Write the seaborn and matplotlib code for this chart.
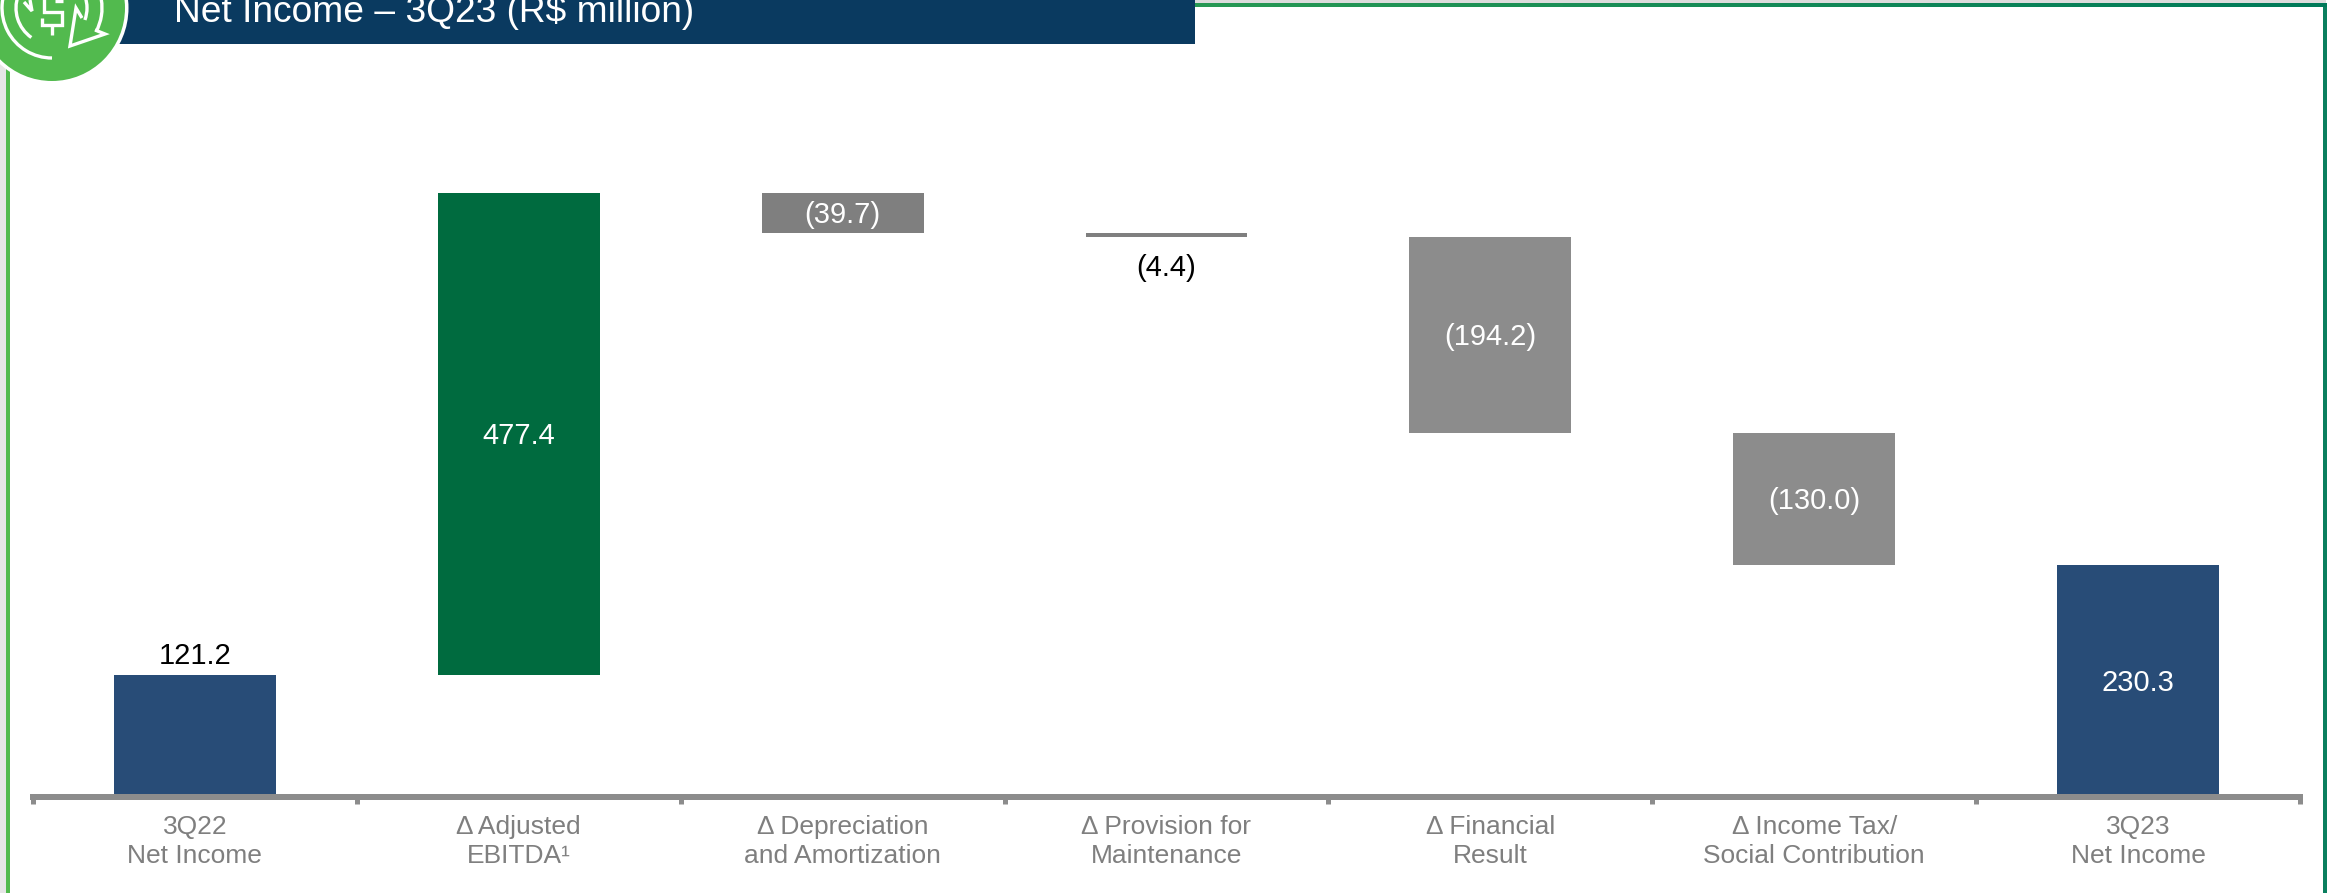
import matplotlib
matplotlib.use("Agg")
import matplotlib.pyplot as plt
import numpy as np
import seaborn as sns
from matplotlib.colors import LinearSegmentedColormap
from matplotlib.patches import Circle, Rectangle, Arc

# Net income bridge, R$ million
categories = ["3Q22\nNet Income", "Δ Adjusted\nEBITDA¹", "Δ Depreciation\nand Amortization",
              "Δ Provision for\nMaintenance", "Δ Financial\nResult",
              "Δ Income Tax/\nSocial Contribution", "3Q23\nNet Income"]
values = [121.2, 477.4, -39.7, -4.4, -194.2, -130.0, 230.3]
bottoms = [0, 121.2, 558.9, 554.5, 360.3, 230.3, 0]
labels = ["121.2", "477.4", "(39.7)", "(4.4)", "(194.2)", "(130.0)", "230.3"]
bar_colors = ["#284C77", "#006B3F", "#7F7F7F", "#7F7F7F", "#8C8C8C", "#8C8C8C", "#284C77"]
label_colors = ["black", "white", "white", "black", "white", "white", "white"]
title = "Net Income – 3Q23 (R$ million)"

W, H = 2335, 893
sns.set_theme(style="white")
plt.rcParams["font.family"] = ["Liberation Sans", "DejaVu Sans"]

fig = plt.figure(figsize=(W / 100, H / 100), dpi=100, facecolor="white")

# Chart area: x runs 33-2300 px, zero sits at 797 px, about 1.01 px per R$ million
ax_top_px = 100
zero_px = 797
ax = fig.add_axes([33 / W, (H - zero_px) / H, (2300 - 33) / W, (zero_px - ax_top_px) / H])
ax.patch.set_alpha(0)

for cat, val, bot, col in zip(categories, values, bottoms, bar_colors):
    sns.barplot(x=[cat], y=[abs(val)], order=categories, bottom=bot, color=col,
                saturation=1, width=0.5, ax=ax, linewidth=0)

ax.set_xlim(-0.5, 6.5)
ax.set_ylim(0, (zero_px - ax_top_px) / 1.0095)
ax.set_ylabel("")
ax.set_xlabel("")
ax.set_yticks([])

for name in ("top", "left", "right"):
    ax.spines[name].set_visible(False)
axis_gray = "#8C8C8C"
ax.spines["bottom"].set_color(axis_gray)
ax.spines["bottom"].set_linewidth(4.32)

# Category separators as major ticks, names on minor ticks at the bar centres
ax.set_xticks(np.arange(-0.5, 7, 1))
ax.set_xticklabels([])
ax.tick_params(axis="x", which="major", bottom=True, length=5.2, width=3.6, color=axis_gray)
ax.set_xticks(np.arange(7), minor=True)
ax.set_xticklabels(categories, minor=True, fontsize=19, color="#7F7F7F", linespacing=1.28)
ax.tick_params(axis="x", which="minor", bottom=True, length=0, pad=13, labelcolor="#7F7F7F")

for i, (val, bot, text, col) in enumerate(zip(values, bottoms, labels, label_colors)):
    height = abs(val)
    if col == "white":
        ax.annotate(text, (i, bot + height / 2), xytext=(0, -1.6), textcoords="offset points",
                    ha="center", va="center", color=col, fontsize=21)
    elif val > 0:
        ax.annotate(text, (i, bot + height), xytext=(0, 3), textcoords="offset points",
                    ha="center", va="bottom", color=col, fontsize=21)
    else:
        ax.annotate(text, (i, bot), xytext=(0, -12), textcoords="offset points",
                    ha="center", va="top", color=col, fontsize=21)

# Page furniture, laid out in pixel coordinates
page = fig.add_axes([0, 0, 1, 1], zorder=5)
page.set_xlim(0, W)
page.set_ylim(H, 0)
page.axis("off")
page.patch.set_alpha(0)

page.add_patch(Rectangle((0, 0), 2326, 3, fc="#DCDCDC", ec="none"))
page.add_patch(Rectangle((0, 62), 6, H - 62, fc="#E6E6E6", ec="none"))
page.add_patch(Rectangle((6, 60), 4, H - 60, fc="#52BA4E", ec="none"))
page.add_patch(Rectangle((2323, 4), 4, H - 4, fc="#0A7F5F", ec="none"))

frame_cmap = LinearSegmentedColormap.from_list("frame", ["#52BA4E", "#007A5A"])
page.imshow(np.linspace(0, 1, 256)[None, :], extent=(0, 2327, 7, 3), cmap=frame_cmap,
            aspect="auto", zorder=1)
page.set_xlim(0, W)
page.set_ylim(H, 0)

page.add_patch(Rectangle((118, 0), 1077, 44, fc="#0A3A60", ec="none", zorder=2))
page.text(174, 22, title, color="white", fontsize=26.7, ha="left", va="baseline", zorder=3)

# Round badge with the currency-cycle icon
page.add_patch(Circle((52, 8), 76.5, fc="white", ec="none", zorder=3))
page.add_patch(Circle((52, 8), 73, fc="#52BA4E", ec="none", zorder=3))
icon = dict(color="white", lw=2.4, zorder=4, solid_capstyle="butt", solid_joinstyle="miter")
arc_kw = dict(ec="white", lw=2.4, zorder=4, fill=False)
page.add_patch(Arc((52, 8), 100, 100, theta1=90, theta2=215, **arc_kw))
page.add_patch(Arc((52, 8), 72, 72, theta1=125, theta2=200, **arc_kw))
page.add_patch(Arc((52, 8), 100, 100, theta1=-10, theta2=28, **arc_kw))
page.add_patch(Arc((52, 8), 70, 70, theta1=-20, theta2=20, **arc_kw))
page.plot([82, 76, 70, 105, 95], [18, 8, 46, 34, 30], **icon)
page.plot([24, 32, 30], [2, 11, 0], **icon)
page.plot([44, 44, 62, 62, 42, 42], [-2, 12, 12, 25, 25, 18], **icon)
page.plot([52, 52], [25, 35], **icon)
page.plot([55, 63], [1, 1], **icon)

fig.savefig("out.png", dpi=100)
